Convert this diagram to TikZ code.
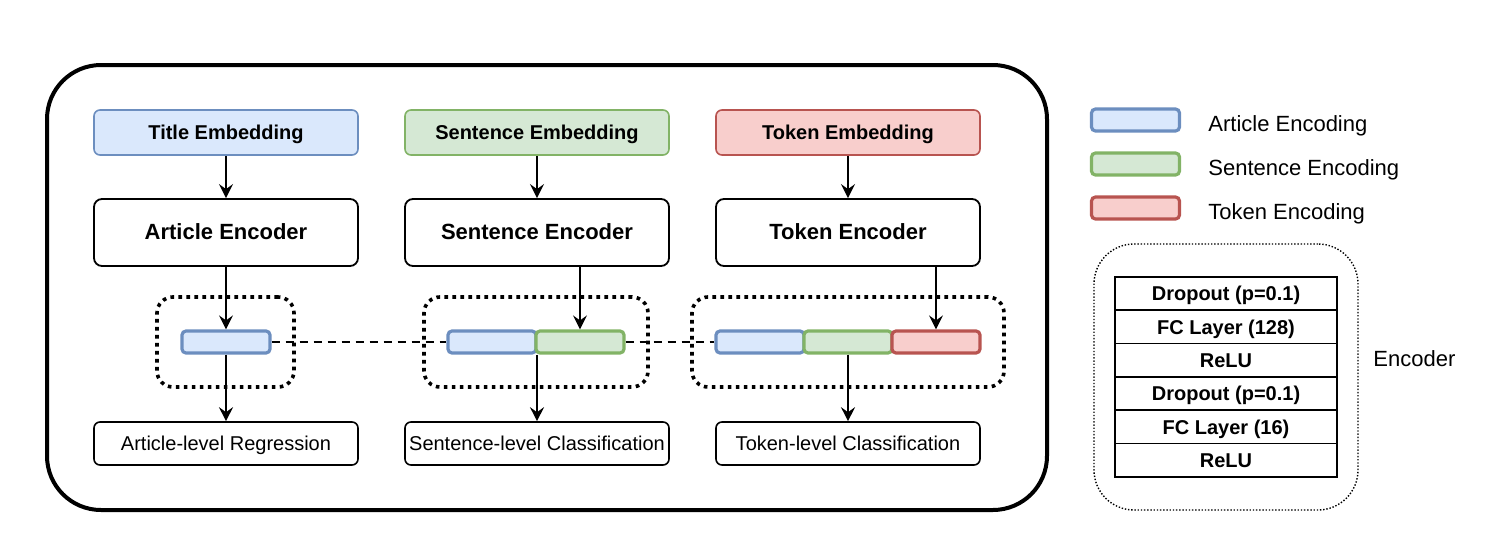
\documentclass[tikz,border=0pt]{standalone}
\usepackage{fontspec}
\setmainfont{Liberation Sans}
\usetikzlibrary{arrows.meta}

\definecolor{artfill}{HTML}{DAE8FC}
\definecolor{artdraw}{HTML}{6C8EBF}
\definecolor{senfill}{HTML}{D5E8D4}
\definecolor{sendraw}{HTML}{82B366}
\definecolor{tokfill}{HTML}{F8CECC}
\definecolor{tokdraw}{HTML}{B85450}

\tikzset{
  capsonly/.style={text height=0.72em,text depth=0pt},
  embed/.style={draw,rounded corners=3pt,line width=0.8pt,inner sep=0pt,capsonly,
    minimum width=132pt,minimum height=22.5pt,font=\bfseries\fontsize{10}{12}\selectfont},
  encbox/.style={draw,rounded corners=4pt,line width=0.9pt,inner sep=0pt,capsonly,
    minimum width=132pt,minimum height=33.5pt,font=\bfseries\fontsize{11}{13}\selectfont},
  outbox/.style={draw,rounded corners=3pt,line width=0.8pt,inner sep=0pt,capsonly,
    minimum width=132pt,minimum height=21.5pt,font=\fontsize{10}{12}\selectfont},
  bar/.style={draw,rounded corners=2pt,line width=1.6pt,inner sep=0pt,
    minimum width=44pt,minimum height=11pt},
  groupbox/.style={draw,rounded corners=8pt,line width=1.8pt,dash pattern=on 1.8pt off 2.2pt,
    inner sep=0pt,minimum height=45pt},
  layer/.style={draw,line width=0.7pt,inner sep=0pt,minimum width=111pt,capsonly,
    minimum height=16.67pt,font=\bfseries\fontsize{10}{12}\selectfont},
  legtext/.style={anchor=west,inner sep=0pt,capsonly,font=\fontsize{11}{13}\selectfont},
  arr/.style={-{Stealth[length=7pt,width=7pt,inset=2.5pt]},line width=0.9pt},
}

\begin{document}
\begin{tikzpicture}[x=0.5pt,y=-0.5pt]
  \useasboundingbox (0,0) rectangle (1485,547);

  % outer frame
  \draw[line width=2pt,rounded corners=27pt] (47,65) rectangle (1047,510);

  % embeddings, encoders and outputs
  \node[embed,fill=artfill,draw=artdraw] (titleemb) at (226,132.5) {Title Embedding};
  \node[embed,fill=senfill,draw=sendraw] (sentemb)  at (537,132.5) {Sentence Embedding};
  \node[embed,fill=tokfill,draw=tokdraw] (tokemb)   at (848,132.5) {Token Embedding};

  \node[encbox] (artenc)  at (226,232.5) {Article Encoder};
  \node[encbox] (sentenc) at (537,232.5) {Sentence Encoder};
  \node[encbox] (tokenc)  at (848,232.5) {Token Encoder};

  \node[outbox] (artout)  at (226,443.5) {Article-level Regression};
  \node[outbox] (sentout) at (537,443.5) {Sentence-level Classification};
  \node[outbox] (tokout)  at (848,443.5) {Token-level Classification};

  % grouping boxes
  \node[groupbox,minimum width=68.5pt] (artgroup)  at (225.5,342) {};
  \node[groupbox,minimum width=112pt]  (sentgroup) at (536,342)   {};
  \node[groupbox,minimum width=156pt]  (tokgroup)  at (848,342)   {};

  % encodings
  \begin{scope}[every node/.style={bar}]
    \node[fill=artfill,draw=artdraw] (abar)  at (226,342) {};
    \node[fill=artfill,draw=artdraw] (sbar1) at (492,342) {};
    \node[fill=senfill,draw=sendraw] (sbar2) at (580,342) {};
    \node[fill=artfill,draw=artdraw] (tbar1) at (760,342) {};
    \node[fill=senfill,draw=sendraw] (tbar2) at (848,342) {};
    \node[fill=tokfill,draw=tokdraw] (tbar3) at (936,342) {};
  \end{scope}

  % connectors
  \draw[arr] (titleemb) -- (artenc);
  \draw[arr] (sentemb) -- (sentenc);
  \draw[arr] (tokemb) -- (tokenc);
  \draw[arr] (artenc) -- (abar);
  \draw[arr] (sbar2.north |- sentenc.south) -- (sbar2.north);
  \draw[arr] (tbar3.north |- tokenc.south) -- (tbar3.north);
  \draw[arr] (abar) -- (artout);
  \draw[arr] (sentout.north |- sbar2.south) -- (sentout.north);
  \draw[arr] (tbar2) -- (tokout);
  \draw[dashed,line width=0.9pt,dash pattern=on 4pt off 3pt] (abar) -- (sbar1);
  \draw[dashed,line width=0.9pt,dash pattern=on 4pt off 3pt] (sbar2) -- (tbar1);

  % legend
  \node[bar,fill=artfill,draw=artdraw] (legart)  at (1135.5,120) {};
  \node[bar,fill=senfill,draw=sendraw] (legsent) at (1135.5,164) {};
  \node[bar,fill=tokfill,draw=tokdraw] (legtok)  at (1135.5,208) {};
  \node[legtext] (legarttxt)  at (1208,124) {Article Encoding};
  \node[legtext] (legsenttxt) at (1208,168) {Sentence Encoding};
  \node[legtext] (legtoktxt)  at (1208,212) {Token Encoding};

  % encoder layers
  \node[draw,rounded corners=20pt,line width=0.7pt,dash pattern=on 0.7pt off 0.9pt,
    minimum width=132pt,minimum height=133pt] (encframe) at (1226,377) {};
  \node[layer] (l1) at (1226,293.5) {Dropout (p=0.1)};
  \node[layer] (l2) at (1226,326.8) {FC Layer (128)};
  \node[layer] (l3) at (1226,360.2) {ReLU};
  \node[layer] (l4) at (1226,393.5) {Dropout (p=0.1)};
  \node[layer] (l5) at (1226,426.8) {FC Layer (16)};
  \node[layer] (l6) at (1226,460.2) {ReLU};
  \node[legtext] (enclabel) at (1373,359) {Encoder};

\end{tikzpicture}
\end{document}
